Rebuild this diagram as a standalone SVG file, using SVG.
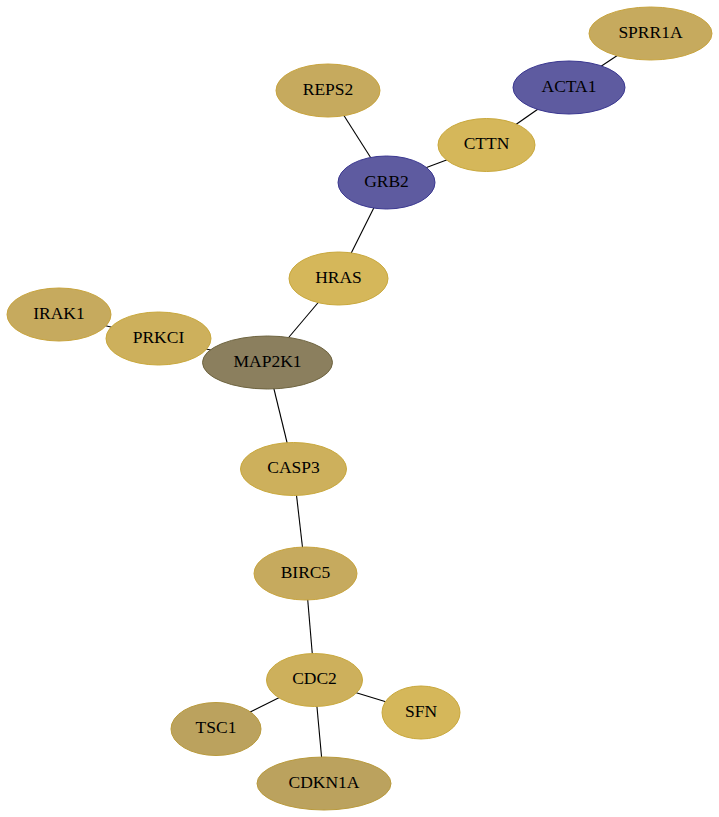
<svg xmlns="http://www.w3.org/2000/svg" width="719" height="817" viewBox="0 0 719 817">
<style>
.e{stroke:#000;stroke-width:1.1;fill:none}
.n text{font-family:"Liberation Serif","Times New Roman",serif;font-size:17.5px;text-anchor:middle;fill:#000}
.g1{fill:#c6aa5e;stroke:#c8a43e}
.g2{fill:#d5b75a;stroke:#c9a83c}
.g3{fill:#cdb05c;stroke:#c9a83c}
.g4{fill:#bba25e;stroke:#b99a3c}
.b{fill:#5e5ba0;stroke:#3a3790}
.m{fill:#8b7f5e;stroke:#6e6440}
</style>
<rect width="719" height="817" fill="#fff"/>
<g id="edges">
<line class="e" x1="650.5" y1="33.5" x2="569" y2="87.5"/>
<line class="e" x1="569" y1="87.5" x2="486.5" y2="145"/>
<line class="e" x1="486.5" y1="145" x2="386.5" y2="182.5"/>
<line class="e" x1="328" y1="90.5" x2="386.5" y2="182.5"/>
<line class="e" x1="386.5" y1="182.5" x2="338.5" y2="278.5"/>
<line class="e" x1="338.5" y1="278.5" x2="267.5" y2="362.5"/>
<line class="e" x1="59" y1="314.5" x2="158.5" y2="338.5"/>
<line class="e" x1="158.5" y1="338.5" x2="267.5" y2="362.5"/>
<line class="e" x1="267.5" y1="362.5" x2="293.5" y2="469"/>
<line class="e" x1="293.5" y1="469" x2="305.5" y2="573.5"/>
<line class="e" x1="305.5" y1="573.5" x2="314.5" y2="680"/>
<line class="e" x1="314.5" y1="680" x2="216" y2="729"/>
<line class="e" x1="314.5" y1="680" x2="421" y2="712.5"/>
<line class="e" x1="314.5" y1="680" x2="324" y2="783.5"/>
</g>
<g id="SPRR1A" class="n"><ellipse class="g1" cx="650.5" cy="33.5" rx="61.5" ry="26.5"/><text x="650.5" y="37.5">SPRR1A</text></g>
<g id="ACTA1" class="n"><ellipse class="b" cx="569" cy="87.5" rx="56" ry="26.5"/><text x="569" y="91.5">ACTA1</text></g>
<g id="REPS2" class="n"><ellipse class="g1" cx="328" cy="90.5" rx="52" ry="26.5"/><text x="328" y="94.5">REPS2</text></g>
<g id="CTTN" class="n"><ellipse class="g2" cx="486.5" cy="145" rx="48.5" ry="26.5"/><text x="486.5" y="149">CTTN</text></g>
<g id="GRB2" class="n"><ellipse class="b" cx="386.5" cy="182.5" rx="48.5" ry="26.5"/><text x="386.5" y="186.5">GRB2</text></g>
<g id="HRAS" class="n"><ellipse class="g2" cx="338.5" cy="278.5" rx="49.5" ry="26.5"/><text x="338.5" y="282.5">HRAS</text></g>
<g id="IRAK1" class="n"><ellipse class="g1" cx="59" cy="314.5" rx="52" ry="26.5"/><text x="59" y="318.5">IRAK1</text></g>
<g id="PRKCI" class="n"><ellipse class="g3" cx="158.5" cy="338.5" rx="52.5" ry="26.5"/><text x="158.5" y="342.5">PRKCI</text></g>
<g id="MAP2K1" class="n"><ellipse class="m" cx="267.5" cy="362.5" rx="65" ry="26.5"/><text x="267.5" y="366.5">MAP2K1</text></g>
<g id="CASP3" class="n"><ellipse class="g3" cx="293.5" cy="469" rx="53" ry="26.5"/><text x="293.5" y="473">CASP3</text></g>
<g id="BIRC5" class="n"><ellipse class="g1" cx="305.5" cy="573.5" rx="51.5" ry="26.5"/><text x="305.5" y="577.5">BIRC5</text></g>
<g id="CDC2" class="n"><ellipse class="g3" cx="314.5" cy="680" rx="48" ry="26.5"/><text x="314.5" y="684">CDC2</text></g>
<g id="SFN" class="n"><ellipse class="g2" cx="421" cy="712.5" rx="39" ry="26.5"/><text x="421" y="716.5">SFN</text></g>
<g id="TSC1" class="n"><ellipse class="g4" cx="216" cy="729" rx="45" ry="26.5"/><text x="216" y="733">TSC1</text></g>
<g id="CDKN1A" class="n"><ellipse class="g4" cx="324" cy="783.5" rx="67" ry="26.5"/><text x="324" y="787.5">CDKN1A</text></g>
</svg>
